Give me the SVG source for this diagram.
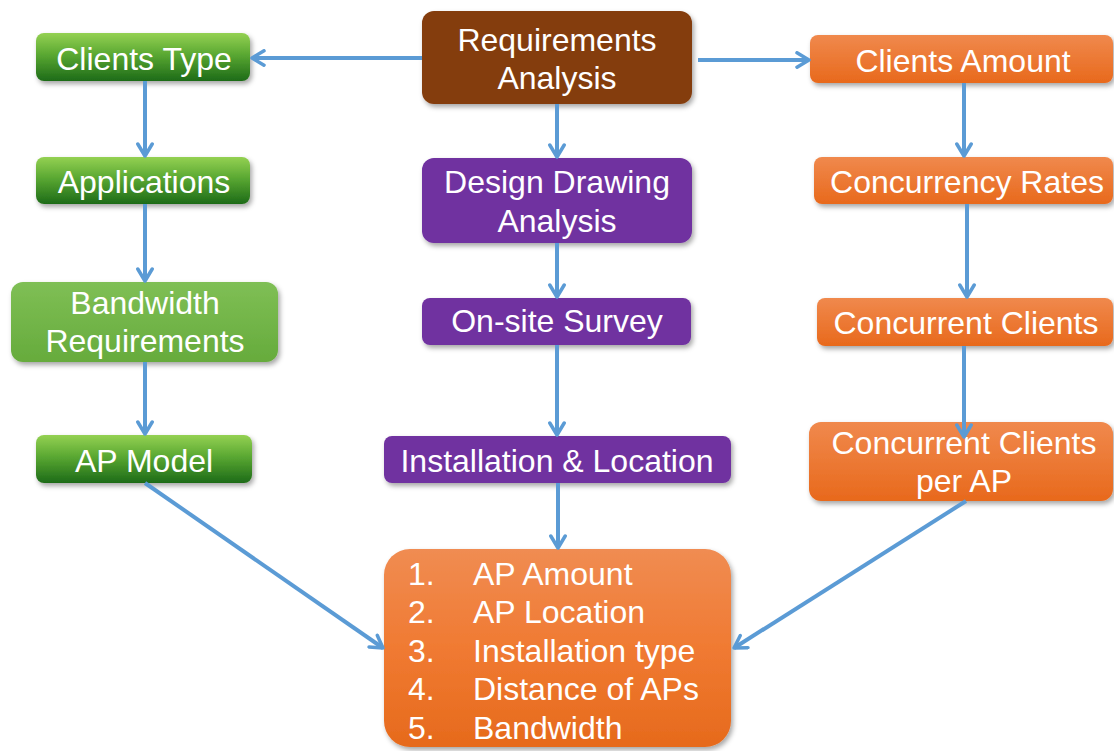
<svg xmlns="http://www.w3.org/2000/svg" width="1114" height="751" viewBox="0 0 1114 751" font-family="'Liberation Sans', Arial, sans-serif">
<defs>
<linearGradient id="gGreen" x1="0" y1="0" x2="0" y2="1"><stop offset="0" stop-color="#94d152"/><stop offset="0.45" stop-color="#5aa832"/><stop offset="1" stop-color="#1d6b18"/></linearGradient>
<linearGradient id="gGreen2" x1="0" y1="0" x2="0" y2="1"><stop offset="0" stop-color="#7fbf55"/><stop offset="1" stop-color="#66ab3c"/></linearGradient>
<linearGradient id="gOrange" x1="0" y1="0" x2="0" y2="1"><stop offset="0" stop-color="#f0894d"/><stop offset="1" stop-color="#e8691c"/></linearGradient>
<linearGradient id="gOrangeBig" x1="0" y1="0" x2="0" y2="1"><stop offset="0" stop-color="#f08c52"/><stop offset="0.5" stop-color="#f07a32"/><stop offset="1" stop-color="#e66a1c"/></linearGradient>
<filter id="sh" x="-10%" y="-20%" width="125%" height="150%"><feDropShadow dx="2" dy="3" stdDeviation="2.5" flood-color="#000" flood-opacity="0.35"/></filter>
<marker id="arr" viewBox="0 0 18 18" refX="15" refY="9" markerWidth="18" markerHeight="18" markerUnits="userSpaceOnUse" orient="auto"><path d="M3,1.8 L15,9 L3,16.2" fill="none" stroke="#5b9bd5" stroke-width="3.5" stroke-linecap="round" stroke-linejoin="round"/></marker>
</defs>
<style>
text{font-family:"Liberation Sans",Arial,sans-serif;font-size:32px;fill:#fff;text-anchor:middle}
.lst text{text-anchor:start}
.box{filter:url(#sh)}
.c{fill:none;stroke:#5b9bd5;stroke-width:4;marker-end:url(#arr)}
</style>
<rect width="1114" height="751" fill="#fff"/>
<g id="clients-type"><rect class="box" x="36" y="33" width="214" height="48" rx="8" fill="url(#gGreen)"/><text x="144" y="70">Clients Type</text></g>
<g id="applications"><rect class="box" x="36" y="157" width="214" height="47" rx="8" fill="url(#gGreen)"/><text x="144" y="193">Applications</text></g>
<g id="bandwidth-requirements"><rect class="box" x="11" y="282" width="267" height="80" rx="12" fill="url(#gGreen2)"/><text x="145" y="314">Bandwidth</text><text x="145" y="352">Requirements</text></g>
<g id="ap-model"><rect class="box" x="36" y="435" width="216" height="48" rx="8" fill="url(#gGreen)"/><text x="144" y="472">AP Model</text></g>
<g id="requirements-analysis"><rect class="box" x="422" y="11" width="270" height="93" rx="12" fill="#843c0c"/><text x="557" y="51">Requirements</text><text x="557" y="89">Analysis</text></g>
<g id="design-drawing-analysis"><rect class="box" x="422" y="158" width="270" height="85" rx="12" fill="#7030a0"/><text x="557" y="193">Design Drawing</text><text x="557" y="232">Analysis</text></g>
<g id="on-site-survey"><rect class="box" x="422" y="298" width="269" height="47" rx="8" fill="#7030a0"/><text x="557" y="332">On-site Survey</text></g>
<g id="installation-location"><rect class="box" x="384" y="436" width="347" height="47" rx="8" fill="#7030a0"/><text x="557" y="472">Installation &amp; Location</text></g>
<g id="clients-amount"><rect class="box" x="810" y="35" width="303" height="48" rx="8" fill="url(#gOrange)"/><text x="963" y="72">Clients Amount</text></g>
<g id="concurrency-rates"><rect class="box" x="814" y="157" width="299" height="47" rx="8" fill="url(#gOrange)"/><text x="967" y="193">Concurrency Rates</text></g>
<g id="concurrent-clients"><rect class="box" x="817" y="298" width="296" height="48" rx="8" fill="url(#gOrange)"/><text x="966" y="334">Concurrent Clients</text></g>
<g id="concurrent-clients-per-ap"><rect class="box" x="809" y="422" width="304" height="79" rx="12" fill="url(#gOrange)"/><text x="964" y="454">Concurrent Clients</text><text x="964" y="492">per AP</text></g>
<g id="results"><rect class="box" x="384" y="549" width="347" height="198" rx="26" fill="url(#gOrangeBig)"/>
<g class="lst">
<text x="408" y="585">1.</text><text x="473" y="585">AP Amount</text>
<text x="408" y="623">2.</text><text x="473" y="623">AP Location</text>
<text x="408" y="662">3.</text><text x="473" y="662">Installation type</text>
<text x="408" y="700">4.</text><text x="473" y="700">Distance of APs</text>
<text x="408" y="739">5.</text><text x="473" y="739">Bandwidth</text>
</g></g>
<g id="connectors">
<path class="c" d="M422,58 L252,58"/>
<path class="c" d="M698,60 L809,60"/>
<path class="c" d="M145,81 L145,156"/>
<path class="c" d="M145,204 L145,281"/>
<path class="c" d="M145,362 L145,434"/>
<path class="c" d="M557,104 L557,157"/>
<path class="c" d="M557,243 L557,297"/>
<path class="c" d="M557,345 L557,435"/>
<path class="c" d="M558,483 L558,548"/>
<path class="c" d="M964,83 L964,156"/>
<path class="c" d="M967,204 L967,297"/>
<path class="c" d="M964,346 L964,437"/>
<path class="c" d="M145,483 L383,648"/>
<path class="c" d="M966,501 L734,648"/>
</g>
</svg>
